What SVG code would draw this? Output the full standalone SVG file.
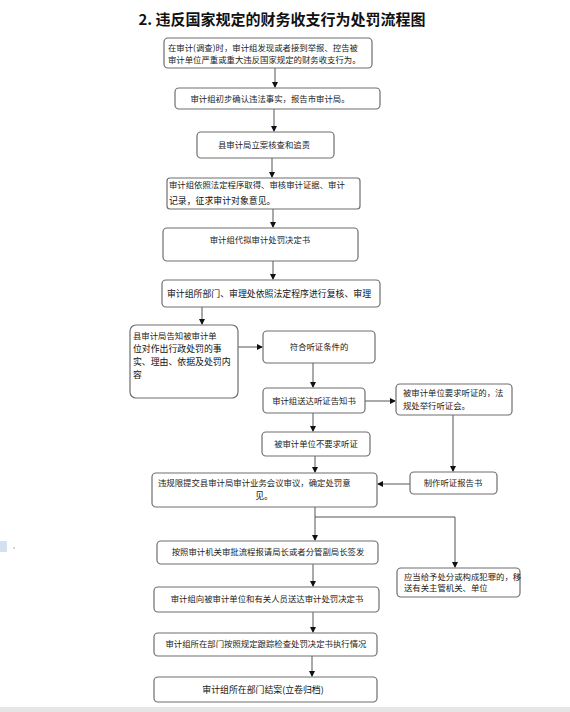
<svg xmlns="http://www.w3.org/2000/svg" width="570" height="712" viewBox="0 0 570 712">
<defs>
<style>
.bx{fill:#fff;stroke:#6e6e6e;stroke-width:1.2}
.t{font-family:"Noto Sans CJK SC","Noto Sans",sans-serif;font-size:8.4px;fill:#222}
.tl{font-family:"Noto Sans CJK SC","Noto Sans",sans-serif;font-size:8.9px;fill:#111}
.c{text-anchor:middle}
.ln{fill:none;stroke:#555;stroke-width:1}
.title{font-family:"Noto Sans CJK SC","Noto Sans",sans-serif;font-size:15px;font-weight:bold;fill:#111}
</style>
<marker id="ah" markerWidth="6" markerHeight="6" refX="5" refY="3" orient="auto" markerUnits="userSpaceOnUse">
<path d="M0,0 L6,3 L0,6 z" fill="#111"/>
</marker>
</defs>
<rect width="570" height="712" fill="#fff"/>
<rect x="0" y="707" width="570" height="5" fill="#e6e6e6"/>
<g id="icon" opacity="0.35"><rect x="0" y="541" width="7" height="11" rx="1" fill="#7fa7d8"/><rect x="13" y="547" width="2" height="2" fill="#888"/></g>
<text class="title c" x="282" y="25">2. 违反国家规定的财务收支行为处罚流程图</text>

<g id="connectors">
<path class="ln" d="M275,68 V87" marker-end="url(#ah)"/>
<path class="ln" d="M274,109 V131" marker-end="url(#ah)"/>
<path class="ln" d="M272,158 V177" marker-end="url(#ah)"/>
<path class="ln" d="M273,209 V227" marker-end="url(#ah)"/>
<path class="ln" d="M273,261 V279" marker-end="url(#ah)"/>
<path class="ln" d="M202,307 V324" marker-end="url(#ah)"/>
<path class="ln" d="M238,347 H262" marker-end="url(#ah)"/>
<path class="ln" d="M313,363 V387" marker-end="url(#ah)"/>
<path class="ln" d="M365,401 H395" marker-end="url(#ah)"/>
<path class="ln" d="M453,415 V471" marker-end="url(#ah)"/>
<path class="ln" d="M410,484 H378" marker-end="url(#ah)"/>
<path class="ln" d="M313,413 V431" marker-end="url(#ah)"/>
<path class="ln" d="M315,456 V472" marker-end="url(#ah)"/>
<path class="ln" d="M315,507 V540" marker-end="url(#ah)"/>
<path class="ln" d="M315,517 H455 V567" marker-end="url(#ah)"/>
<path class="ln" d="M313,564 V586" marker-end="url(#ah)"/>
<path class="ln" d="M313,612 V632" marker-end="url(#ah)"/>
<path class="ln" d="M312,656 V676" marker-end="url(#ah)"/>
</g>

<g id="n1"><rect class="bx" x="164" y="38" width="208" height="30" rx="4"/>
<text class="t" x="168" y="51">在审计(调查)时，审计组发现或者接到举报、控告被</text>
<text class="t" x="168" y="63">审计单位严重或重大违反国家规定的财务收支行为。</text></g>

<g id="n2"><rect class="bx" x="175" y="88" width="205" height="21" rx="4"/>
<text class="t c" x="270" y="102">审计组初步确认违法事实，报告市审计局。</text></g>

<g id="n3"><rect class="bx" x="197" y="132" width="137" height="26" rx="4"/>
<text class="t c" x="264" y="148">县审计局立案核查和追责</text></g>

<g id="n4"><rect class="bx" x="167" y="178" width="193" height="31" rx="3"/>
<text class="t" x="169" y="188">审计组依照法定程序取得、审核审计证据、审计</text>
<text class="tl" x="169" y="204">记录，征求审计对象意见。</text></g>

<g id="n5"><rect class="bx" x="163" y="228" width="195" height="33" rx="4"/>
<text class="t c" x="260" y="243">审计组代拟审计处罚决定书</text></g>

<g id="n6"><rect class="bx" x="162" y="280" width="218" height="27" rx="4"/>
<text class="tl" x="167" y="297">审计组所部门、审理处依照法定程序进行复核、审理</text></g>

<g id="n7"><rect class="bx" x="130" y="325" width="108" height="73" rx="6"/>
<text class="t" x="133" y="339">县审计局告知被审计单</text>
<text class="tl" x="133" y="352">位对作出行政处罚的事</text>
<text class="tl" x="133" y="365">实、理由、依据及处罚内</text>
<text class="tl" x="133" y="378">容</text></g>

<g id="n8"><rect class="bx" x="263" y="331" width="112" height="32" rx="4"/>
<text class="t c" x="319" y="350">符合听证条件的</text></g>

<g id="n9"><rect class="bx" x="263" y="388" width="102" height="25" rx="4"/>
<text class="t c" x="314" y="404">审计组送达听证告知书</text></g>

<g id="n10"><rect class="bx" x="396" y="384" width="116" height="31" rx="4"/>
<text class="t" x="403" y="396">被审计单位要求听证的，法</text>
<text class="t" x="403" y="409">规处举行听证会。</text></g>

<g id="n11"><rect class="bx" x="410" y="472" width="87" height="22" rx="4"/>
<text class="t c" x="453" y="486">制作听证报告书</text></g>

<g id="n12"><rect class="bx" x="262" y="432" width="108" height="24" rx="4"/>
<text class="t c" x="316" y="447">被审计单位不要求听证</text></g>

<g id="n13"><rect class="bx" x="152" y="473" width="225" height="34" rx="4"/>
<text class="t" x="158" y="486">违规限提交县审计局审计业务会议审议，确定处罚意</text>
<text class="tl c" x="264" y="499">见。</text></g>

<g id="n14"><rect class="bx" x="157" y="541" width="221" height="23" rx="4"/>
<text class="t c" x="268" y="555">按照审计机关审批流程报请局长或者分管副局长签发</text></g>

<g id="n15"><rect class="bx" x="397" y="568" width="123" height="29" rx="4"/>
<text class="t" x="404" y="580">应当给予处分或构成犯罪的，移</text>
<text class="t" x="404" y="591">送有关主管机关、单位</text></g>

<g id="n16"><rect class="bx" x="154" y="587" width="225" height="25" rx="4"/>
<text class="t c" x="267" y="602">审计组向被审计单位和有关人员送达审计处罚决定书</text></g>

<g id="n17"><rect class="bx" x="154" y="633" width="223" height="23" rx="4"/>
<text class="t c" x="266" y="647">审计组所在部门按照规定跟踪检查处罚决定书执行情况</text></g>

<g id="n18"><rect class="bx" x="154" y="677" width="223" height="25" rx="4"/>
<text class="tl c" x="263" y="693">审计组所在部门结案(立卷归档)</text></g>
</svg>
